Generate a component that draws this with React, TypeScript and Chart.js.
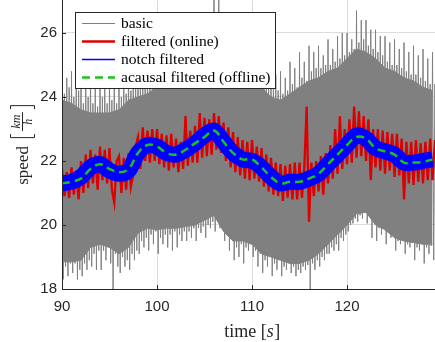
import React, { useEffect, useRef } from 'react';
import { Chart, registerables } from 'chart.js';

Chart.register(...registerables);

// ---------- axes ----------
const X_MIN = 90;
const X_MAX = 129.26;
const Y_MIN = 18;
const Y_MAX = 27.03;
const X_TICKS = [90, 100, 110, 120];
const Y_TICKS = [18, 20, 22, 24, 26];

const LEGEND_LABELS = ['basic', 'filtered (online)', 'notch filtered', 'acausal filtered (offline)'];

// ---------- data ----------
// "basic": upper swing tips every 0.25 s from 90 s
const BASIC_PEAK_HI = [
  24.9, 24.1, 24.6, 24.3, 24.8, 24.0, 24.5, 24.2,
  24.7, 23.8, 24.3, 24.0, 24.8, 23.8, 24.5, 23.7,
  24.9, 24.0, 24.6, 23.8, 24.7, 23.9, 24.4, 23.8,
  24.8, 24.0, 24.6, 24.1, 25.0, 24.2, 24.8, 24.3,
  25.2, 24.4, 24.9, 24.5, 25.3, 24.5, 25.1, 24.6,
  25.5, 24.7, 25.3, 24.8, 25.7, 24.9, 25.4, 25.0,
  25.9, 25.1, 25.6, 25.2, 26.2, 25.4, 25.9, 25.5,
  26.5, 25.7, 26.2, 25.8, 26.6, 25.9, 26.4, 26.0,
  27.2, 26.0, 27.1, 26.2, 26.6, 25.8, 26.3, 25.7,
  26.4, 25.5, 26.0, 25.4, 26.0, 25.2, 25.7, 25.1,
  25.6, 24.9, 25.4, 24.8, 25.3, 24.6, 25.0, 24.5,
  24.9, 24.3, 24.7, 24.2, 24.8, 24.1, 24.6, 24.2,
  25.1, 24.4, 24.9, 24.3, 25.4, 24.6, 25.1, 24.5,
  25.6, 24.8, 25.4, 24.9, 25.6, 24.9, 25.3, 25.0,
  25.8, 25.0, 25.5, 25.1, 25.9, 25.2, 26.0, 25.3,
  26.0, 25.4, 25.8, 25.5, 26.7, 25.7, 26.4, 25.8,
  26.4, 25.6, 26.1, 25.5, 26.1, 25.4, 25.9, 25.3,
  25.9, 25.1, 25.7, 25.0, 25.8, 25.0, 25.5, 24.9,
  25.7, 24.8, 25.4, 24.7, 25.6, 24.7, 25.3, 24.6,
  25.5, 24.5, 25.2, 24.4, 25.4, 24.4, 25.1, 24.3,
];
// "basic": lower swing tips every 0.25 s from 90.125 s
const BASIC_PEAK_LO = [
  18.3, 18.7, 18.4, 18.8, 18.5, 18.8, 18.3, 18.6,
  18.4, 18.8, 18.6, 18.9, 18.7, 19.1, 18.6, 19.2,
  18.6, 19.2, 18.9, 19.3, 18.8, 18.0, 19.1, 18.7,
  18.5, 19.0, 18.7, 18.9, 18.6, 19.1, 18.9, 19.2,
  19.1, 19.5, 19.3, 19.6, 19.2, 19.7, 19.4, 19.8,
  19.1, 19.6, 19.4, 19.7, 19.3, 19.7, 19.2, 19.8,
  19.3, 19.7, 19.5, 19.8, 19.5, 19.8, 19.6, 19.9,
  19.5, 19.9, 19.75, 19.95, 19.6, 20.0, 19.9, 20.1,
  19.8, 20.2, 19.9, 20.25, 19.5, 19.7, 19.2, 19.6,
  18.9, 19.3, 19.0, 19.4, 18.8, 19.3, 19.2, 19.4,
  19.0, 19.2, 18.7, 19.1, 18.5, 18.9, 18.7, 19.0,
  18.4, 18.8, 18.6, 18.9, 18.4, 18.7, 18.6, 18.8,
  18.5, 18.7, 18.4, 18.6, 18.5, 18.7, 18.6, 18.75,
  18.0, 18.8, 18.6, 18.9, 18.7, 19.0, 18.9, 19.1,
  19.1, 19.3, 19.2, 19.4, 19.2, 19.6, 19.5, 19.7,
  19.8, 20.0, 20.05, 20.2, 20.1, 20.3, 20.2, 20.4,
  20.05, 20.3, 19.6, 20.1, 19.5, 19.9, 19.7, 19.95,
  19.4, 19.8, 19.6, 19.75, 19.2, 19.5, 19.4, 19.6,
  19.1, 19.4, 19.3, 19.45, 18.9, 19.3, 19.2, 19.4,
  18.8, 19.3, 19.1, 19.35, 18.9, 19.3, 19.2, 19.4,
];
// "basic": dense (solid) core of the oscillation, one value per second from 90 s
const BASIC_CORE_HI = [
  23.9, 23.8, 23.6, 23.5, 23.5, 23.5, 23.6, 23.9, 24.0, 24.1,
  24.3, 24.5, 24.7, 25.0, 25.3, 25.5, 25.6, 25.4, 25.1, 24.8,
  24.5, 24.3, 24.0, 23.9, 24.1, 24.3, 24.5, 24.6, 24.8, 24.9,
  25.2, 25.5, 25.4, 25.2, 24.9, 24.8, 24.6, 24.5, 24.3, 24.2,
];
const BASIC_CORE_LO = [
  18.85, 18.85, 18.9, 19.3, 19.4, 19.3, 19.1, 19.3, 19.75, 19.9,
  19.85, 19.9, 19.9, 19.95, 20.0, 20.15, 20.3, 19.8, 19.5, 19.5,
  19.4, 19.1, 19.0, 18.9, 18.8, 18.8, 18.9, 19.1, 19.4, 19.7,
  20.0, 20.35, 20.4, 20.0, 19.85, 19.6, 19.5, 19.45, 19.4, 19.4,
];
// "filtered (online)": one value every 0.25 s from 90 s
const ONLINE = [
  21.75, 20.9, 21.65, 20.85, 21.8, 20.95, 21.7, 20.8,
  22.0, 21.0, 22.2, 21.15, 22.35, 21.3, 22.2, 21.1,
  22.45, 21.4, 22.35, 21.3, 22.4, 21.1, 20.7, 22.0,
  22.15, 21.0, 22.1, 21.1, 22.25, 21.2, 21.6, 22.45,
  22.75, 21.75, 23.05, 22.0, 22.95, 21.95, 23.0, 22.0,
  23.0, 21.9, 22.85, 21.8, 22.8, 21.7, 22.85, 21.8,
  22.7, 21.65, 22.6, 21.75, 23.4, 21.85, 22.95, 21.95,
  23.1, 21.95, 23.5, 22.1, 23.35, 22.15, 23.3, 22.2,
  23.5, 22.35, 23.4, 22.25, 23.2, 22.0, 23.05, 21.8,
  22.9, 21.65, 22.75, 21.55, 22.65, 21.45, 22.6, 21.4,
  22.65, 21.45, 22.45, 21.35, 22.4, 21.2, 22.2, 21.05,
  22.1, 20.95, 21.95, 20.9, 21.9, 20.75, 21.85, 20.85,
  21.9, 20.8, 21.95, 20.8, 21.95, 20.85, 21.75, 23.7,
  20.1, 21.95, 20.9, 22.0, 21.05, 22.15, 20.95, 22.25,
  21.3, 22.5, 21.45, 23.0, 21.6, 23.4, 21.75, 23.0,
  21.9, 23.3, 21.95, 23.7, 22.1, 23.55, 22.15, 23.4,
  22.0, 23.3, 21.4, 23.0, 21.8, 23.0, 21.7, 22.95,
  21.6, 22.9, 21.7, 22.85, 21.5, 22.85, 21.55, 22.7,
  20.8, 22.6, 21.3, 22.6, 21.25, 22.65, 21.35, 22.55,
  21.3, 22.6, 21.4, 22.7, 21.4, 22.65, 21.5, 22.85,
];
// "notch filtered": one value per second from 90 s
const NOTCH = [
  21.3, 21.35, 21.5, 21.8, 21.9, 21.7, 21.6, 21.7, 22.25, 22.5,
  22.45, 22.25, 22.2, 22.35, 22.55, 22.8, 22.95, 22.6, 22.25, 22.05,
  22.0, 21.8, 21.5, 21.3, 21.35, 21.35, 21.45, 21.6, 21.9, 22.2,
  22.5, 22.8, 22.7, 22.4, 22.3, 22.2, 21.95, 21.95, 22.0, 22.05,
];
// "acausal filtered (offline)": one value per second from 90 s
const ACAUSAL = [
  21.3, 21.35, 21.45, 21.75, 21.9, 21.75, 21.65, 21.75, 22.25, 22.5,
  22.45, 22.25, 22.2, 22.35, 22.55, 22.75, 22.95, 22.6, 22.25, 22.05,
  22.05, 21.8, 21.5, 21.3, 21.35, 21.35, 21.45, 21.6, 21.9, 22.2,
  22.5, 22.75, 22.7, 22.4, 22.3, 22.2, 21.95, 21.95, 21.97, 22.05,
];

const COLORS = {
  basic: '#808080',
  online: '#dc0000',
  notch: '#0000ff',
  acausal: '#1ec21e',
  axis: '#262626',
  grid: '#dcdcdc',
};

const T0 = 90;
const pts = (values: number[], step: number, offset = 0) =>
  values.map((y, i) => ({ x: T0 + offset + i * step, y }));

const zigzag = (hi: number[], lo: number[], step: number) => {
  const out: { x: number; y: number }[] = [];
  hi.forEach((h, i) => {
    out.push({ x: T0 + i * step, y: h });
    out.push({ x: T0 + i * step + step / 2, y: lo[i] });
  });
  return out;
};

const overlayPlugin = {
  id: 'overlay',
  afterDraw(chart: any) {
    const { ctx, chartArea: a } = chart;
    const xs = chart.scales.x;
    const ys = chart.scales.y;
    ctx.save();

    // inward ticks + axis lines
    ctx.strokeStyle = COLORS.axis;
    ctx.lineWidth = 1;
    ctx.setLineDash([]);
    ctx.beginPath();
    for (const v of X_TICKS) {
      const px = Math.round(xs.getPixelForValue(v)) + 0.5;
      ctx.moveTo(px, a.bottom);
      ctx.lineTo(px, a.bottom - 4);
    }
    for (const v of Y_TICKS) {
      const py = Math.round(ys.getPixelForValue(v)) + 0.5;
      ctx.moveTo(a.left, py);
      ctx.lineTo(a.left + 4, py);
    }
    ctx.moveTo(a.left + 0.5, a.top);
    ctx.lineTo(a.left + 0.5, a.bottom + 0.5);
    ctx.lineTo(a.right, a.bottom + 0.5);
    ctx.stroke();

    // legend
    const lx = a.left + 13;
    const ly = a.top + 12;
    const lw = 200;
    const lh = 76;
    ctx.fillStyle = '#ffffff';
    ctx.fillRect(lx, ly, lw, lh);
    ctx.strokeStyle = COLORS.axis;
    ctx.lineWidth = 1;
    ctx.strokeRect(lx + 0.5, ly + 0.5, lw, lh);
    const styles = [
      { color: COLORS.basic, width: 1.2, dash: [] as number[] },
      { color: COLORS.online, width: 2.5, dash: [] as number[] },
      { color: COLORS.notch, width: 1.5, dash: [] as number[] },
      { color: COLORS.acausal, width: 2.5, dash: [8, 5] },
    ];
    LEGEND_LABELS.forEach((label, i) => {
      const cy = ly + 11 + i * 18;
      const s = styles[i];
      ctx.beginPath();
      ctx.setLineDash(s.dash);
      ctx.strokeStyle = s.color;
      ctx.lineWidth = s.width;
      ctx.moveTo(lx + 7, cy + 0.5);
      ctx.lineTo(lx + 40, cy + 0.5);
      ctx.stroke();
      ctx.setLineDash([]);
      ctx.fillStyle = '#000000';
      ctx.font = '15.5px "Liberation Serif", serif';
      ctx.textAlign = 'left';
      ctx.textBaseline = 'middle';
      ctx.fillText(label, lx + 46, cy + 0.5);
    });

    // x title: time [s]
    ctx.fillStyle = COLORS.axis;
    ctx.textBaseline = 'alphabetic';
    ctx.textAlign = 'left';
    const fN = '18px "Liberation Serif", serif';
    const fI = 'italic 18px "Liberation Serif", serif';
    const parts: [string, string][] = [['time [', fN], ['s', fI], [']', fN]];
    let total = 0;
    const widths = parts.map(([t, f]) => {
      ctx.font = f;
      const w = ctx.measureText(t).width;
      total += w;
      return w;
    });
    let x0 = xs.getPixelForValue(110) - total / 2;
    parts.forEach(([t, f], i) => {
      ctx.font = f;
      ctx.fillText(t, x0, 337);
      x0 += widths[i] + (i === 1 ? 0.5 : 0);
    });

    // y title: speed [km/h]
    ctx.save();
    ctx.translate(22, ys.getPixelForValue(22.5));
    ctx.rotate(-Math.PI / 2);
    ctx.font = '17px "Liberation Serif", serif';
    const wSpeed = ctx.measureText('speed').width;
    ctx.font = 'italic 12px "Liberation Serif", serif';
    const wKm = ctx.measureText('km').width;
    const wH = ctx.measureText('h').width;
    const fw = Math.max(wKm, wH) + 5;
    const gap1 = 8;
    const bw = 4;
    const gap2 = 3;
    const tot = wSpeed + gap1 + bw + gap2 + fw + gap2 + bw;
    let yx = -tot / 2;
    ctx.font = '17px "Liberation Serif", serif';
    ctx.fillText('speed', yx, 5.5);
    yx += wSpeed + gap1;
    ctx.strokeStyle = COLORS.axis;
    ctx.lineWidth = 1;
    ctx.beginPath();
    ctx.moveTo(yx + bw, -11.5);
    ctx.lineTo(yx + 0.5, -11.5);
    ctx.lineTo(yx + 0.5, 12.5);
    ctx.lineTo(yx + bw, 12.5);
    ctx.stroke();
    yx += bw + gap2;
    ctx.font = 'italic 12px "Liberation Serif", serif';
    ctx.textAlign = 'center';
    ctx.fillText('km', yx + fw / 2, -2.5);
    ctx.fillText('h', yx + fw / 2, 10);
    ctx.beginPath();
    ctx.moveTo(yx, 0.5);
    ctx.lineTo(yx + fw, 0.5);
    ctx.stroke();
    yx += fw + gap2;
    ctx.beginPath();
    ctx.moveTo(yx, -11.5);
    ctx.lineTo(yx + bw - 0.5, -11.5);
    ctx.lineTo(yx + bw - 0.5, 12.5);
    ctx.lineTo(yx, 12.5);
    ctx.stroke();
    ctx.restore();

    ctx.restore();
  },
};

export default function App() {
  const ref = useRef<HTMLCanvasElement>(null);

  useEffect(() => {
    document.body.style.margin = '0';
    const tickFont = { family: '"Liberation Sans", Arial, sans-serif', size: 15 };
    const common = { pointRadius: 0, pointHoverRadius: 0, clip: 0, fill: false };
    const chart = new Chart(ref.current as HTMLCanvasElement, {
      type: 'line',
      data: {
        datasets: [
          {
            ...common,
            label: 'basic core low',
            data: pts(BASIC_CORE_LO, 1),
            borderColor: COLORS.basic,
            borderWidth: 1,
            order: 6,
          },
          {
            ...common,
            label: 'basic core high',
            data: pts(BASIC_CORE_HI, 1),
            borderColor: COLORS.basic,
            backgroundColor: COLORS.basic,
            borderWidth: 1,
            fill: 0,
            order: 5,
          },
          {
            ...common,
            label: LEGEND_LABELS[0],
            data: zigzag(BASIC_PEAK_HI, BASIC_PEAK_LO, 0.25),
            borderColor: COLORS.basic,
            borderWidth: 1,
            order: 4,
          },
          {
            ...common,
            label: LEGEND_LABELS[1],
            data: pts(ONLINE, 0.25),
            borderColor: COLORS.online,
            borderWidth: 2.3,
            order: 3,
          },
          {
            ...common,
            label: LEGEND_LABELS[2],
            data: pts(NOTCH, 1),
            borderColor: COLORS.notch,
            borderWidth: 16,
            tension: 0.3,
            borderJoinStyle: 'round',
            order: 2,
          },
          {
            ...common,
            label: LEGEND_LABELS[3],
            data: pts(ACAUSAL, 1),
            borderColor: COLORS.acausal,
            borderWidth: 2.5,
            borderDash: [8, 5],
            tension: 0.4,
            order: 1,
          },
        ] as any,
      },
      options: {
        responsive: false,
        animation: false,
        devicePixelRatio: 1,
        events: [],
        layout: { padding: 0 },
        plugins: {
          legend: { display: false },
          tooltip: { enabled: false },
        },
        scales: {
          x: {
            type: 'linear',
            min: X_MIN,
            max: X_MAX,
            afterBuildTicks: (s: any) => {
              s.ticks = X_TICKS.map((value) => ({ value }));
            },
            afterFit: (s: any) => {
              s.height = 53;
              s.paddingLeft = 0;
              s.paddingRight = 0;
            },
            grid: { color: COLORS.grid, drawTicks: false, lineWidth: 1 },
            border: { display: false },
            ticks: { color: COLORS.axis, font: tickFont, padding: 9, maxRotation: 0, autoSkip: false },
          },
          y: {
            type: 'linear',
            min: Y_MIN,
            max: Y_MAX,
            afterBuildTicks: (s: any) => {
              s.ticks = Y_TICKS.map((value) => ({ value }));
            },
            afterFit: (s: any) => {
              s.width = 62;
              s.paddingTop = 0;
              s.paddingBottom = 0;
            },
            grid: { color: COLORS.grid, drawTicks: false, lineWidth: 1 },
            border: { display: false },
            ticks: { color: COLORS.axis, font: tickFont, padding: 5, autoSkip: false },
          },
        },
      } as any,
      plugins: [overlayPlugin],
    });
    return () => chart.destroy();
  }, []);

  return (
    <div style={{ width: 435, height: 342, overflow: 'hidden' }}>
      <canvas ref={ref} width={435} height={342} style={{ display: 'block', width: 435, height: 342 }} />
    </div>
  );
}
